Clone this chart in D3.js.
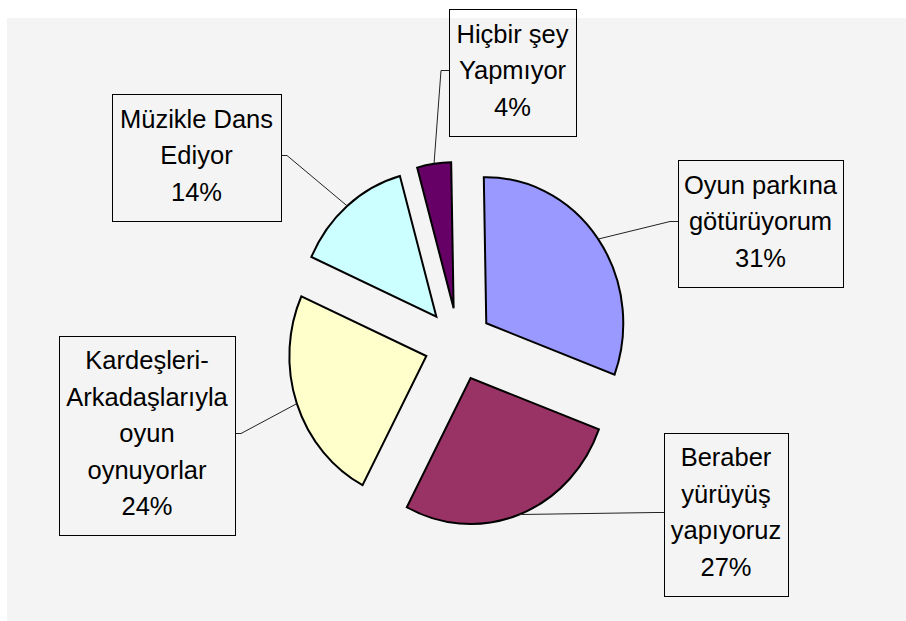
<!DOCTYPE html>
<html>
<head>
<meta charset="utf-8">
<script src="https://cdn.jsdelivr.net/npm/d3@7"></script>
<style>
  body { margin: 0; background: #fff; }
  text { font-family: "Liberation Sans", Arial, sans-serif; }
</style>
</head>
<body>
<svg id="chart" width="906" height="621"></svg>
<script>
const categories = [
  "Oyun parkına\ngötürüyorum",
  "Beraber\nyürüyüş\nyapıyoruz",
  "Kardeşleri-\nArkadaşlarıyla\noyun\noynuyorlar",
  "Müzikle Dans\nEdiyor",
  "Hiçbir şey\nYapmıyor"
];
const values = [31, 27, 24, 14, 4];
const colors = ["#9999ff", "#993366", "#ffffcc", "#ccffff", "#660066"];

// where each label box sits, and which side its leader line comes in
const boxes = [
  { x: 678, y: 160, w: 165, h: 127, side: "left" },
  { x: 664, y: 433, w: 124, h: 163, side: "left" },
  { x: 59, y: 336, w: 176, h: 199, side: "right" },
  { x: 112, y: 94, w: 169, h: 127, side: "right" },
  { x: 449, y: 9, w: 127, h: 127, side: "left" }
];

const svg = d3.select("#chart");

svg.append("rect")
  .attr("x", 7).attr("y", 18)
  .attr("width", 899).attr("height", 603)
  .attr("fill", "#f4f4f4");

const cx = 458.5, cy = 344.2;
const r = 137, ry = 146, k = ry / r;
const explode = 34;
const rot = -0.018;

const total = d3.sum(values);
const pie = d3.pie().sort(null).value(d => d)
  .startAngle(rot).endAngle(2 * Math.PI + rot);
const arcs = pie(values);
const arc = d3.arc().innerRadius(0).outerRadius(r);

const root = svg.append("g")
  .attr("transform", `translate(${cx},${cy}) scale(1,${k})`);

root.selectAll("path")
  .data(arcs)
  .enter()
  .append("path")
  .attr("d", arc)
  .attr("transform", d => {
    const a = (d.startAngle + d.endAngle) / 2;
    return `translate(${explode * Math.sin(a)},${-explode * Math.cos(a)})`;
  })
  .attr("fill", (d, i) => colors[i])
  .attr("stroke", "#000")
  .attr("stroke-width", 2)
  .attr("stroke-linejoin", "miter")
  .attr("vector-effect", "non-scaling-stroke");

// leader lines from the middle of each outer arc to its box
const leaders = svg.append("g");
arcs.forEach((d, i) => {
  const a = (d.startAngle + d.endAngle) / 2;
  const p0 = [cx + (r + explode) * Math.sin(a), cy - (r + explode) * Math.cos(a) * k];
  const b = boxes[i];
  const ay = b.y + b.h / 2 - 2;
  const ax = b.side === "left" ? b.x : b.x + b.w;
  const ex = b.side === "left" ? ax - 8 : ax + 6;
  leaders.append("polyline")
    .attr("points", [p0, [ex, ay], [ax, ay]].map(p => p.join(",")).join(" "))
    .attr("fill", "none")
    .attr("stroke", "#222")
    .attr("stroke-width", 1);
});

const fs = 25.5, lh = 36.5;
const labels = svg.append("g")
  .selectAll("g")
  .data(arcs)
  .enter()
  .append("g");

labels.append("rect")
  .attr("x", (d, i) => boxes[i].x + 0.5)
  .attr("y", (d, i) => boxes[i].y + 0.5)
  .attr("width", (d, i) => boxes[i].w)
  .attr("height", (d, i) => boxes[i].h)
  .attr("fill", "none")
  .attr("stroke", "#000")
  .attr("stroke-width", 1);

labels.each(function (d, i) {
  const b = boxes[i];
  const lines = categories[i].split("\n").concat([Math.round(d.value / total * 100) + "%"]);
  const mid = b.y + b.h / 2;
  const t = d3.select(this).append("text")
    .attr("text-anchor", "middle")
    .attr("font-size", fs)
    .attr("fill", "#000");
  lines.forEach((s, j) => {
    t.append("tspan")
      .attr("x", b.x + b.w / 2)
      .attr("y", mid + (j - (lines.length - 1) / 2) * lh + 6.5)
      .text(s);
  });
});
</script>
</body>
</html>
